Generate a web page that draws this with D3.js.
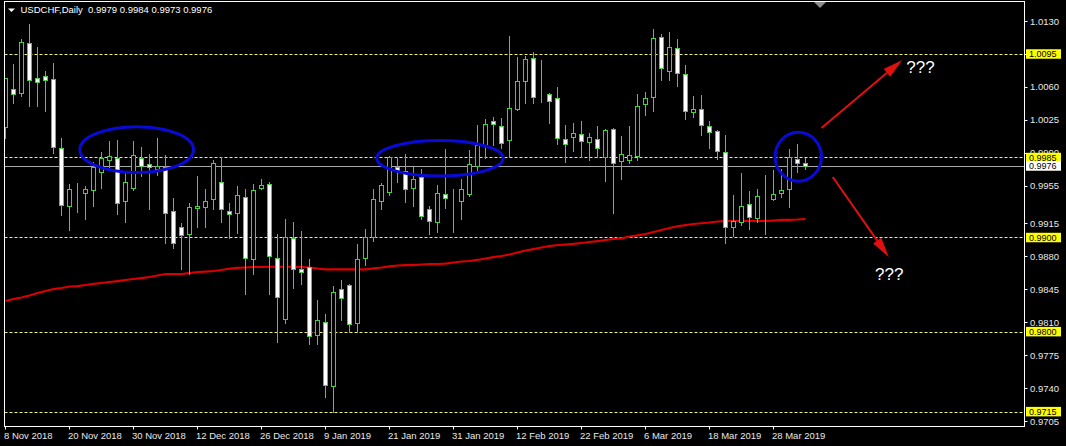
<!DOCTYPE html>
<html>
<head>
<meta charset="utf-8">
<script src="https://cdn.jsdelivr.net/npm/d3@7"></script>
<style>
  body { margin: 0; background: #000; }
  svg { display: block; font-family: "Liberation Sans", Arial, sans-serif; }
</style>
</head>
<body>
<svg id="chart" width="1066" height="446"></svg>
<script>
// USDCHF daily bars, 8 Nov 2018 .. 3 Apr 2019
const open  = [1.0017,1.0058,1.0053,1.0107,1.0069,1.0072,1.0068,0.9995,0.9933,0.9948,
               0.9947,0.9950,0.9970,0.9982,0.9984,0.9939,0.9953,0.9984,0.9978,0.9973,
               0.9975,0.9928,0.9911,0.9904,0.9931,0.9932,0.9941,0.9959,0.9928,0.9926,
               0.9943,0.9877,0.9953,0.9957,0.9878,0.9813,0.9899,0.9866,0.9869,0.9796,
               0.9810,0.9742,0.9845,0.9849,0.9809,0.9878,0.9900,0.9939,0.9948,0.9975,
               0.9971,0.9953,0.9964,0.9930,0.9916,0.9946,0.9941,0.9939,0.9946,0.9976,
               0.9998,1.0024,1.0018,1.0004,1.0037,1.0066,1.0091,1.0047,1.0052,1.0048,
               1.0005,1.0007,1.0010,1.0001,1.0005,0.9986,1.0015,0.9981,0.9982,0.9987,
               1.0042,1.0049,1.0113,1.0077,1.0101,1.0074,1.0033,1.0036,1.0018,1.0013,
               0.9991,0.9911,0.9916,0.9936,0.9921,0.9943,0.9941,0.9947,0.9951,0.9983,
               0.9979];
const high  = [1.0069,1.0084,1.0111,1.0127,1.0102,1.0077,1.0085,1.0006,0.9957,0.9958,
               0.9955,0.9980,0.9991,1.0002,1.0004,0.9971,1.0002,0.9996,0.9989,1.0006,
               0.9988,0.9942,0.9915,0.9937,0.9965,0.9952,0.9982,0.9985,0.9937,0.9955,
               0.9951,0.9957,0.9962,0.9959,0.9904,0.9920,0.9916,0.9907,0.9877,0.9834,
               0.9819,0.9848,0.9855,0.9851,0.9893,0.9909,0.9952,0.9958,0.9987,0.9984,
               0.9989,0.9975,0.9973,0.9933,0.9956,0.9994,0.9951,0.9962,0.9993,1.0019,
               1.0026,1.0028,1.0027,1.0114,1.0092,1.0093,1.0097,1.0089,1.0053,1.0060,
               1.0019,1.0022,1.0024,1.0011,1.0018,1.0015,1.0016,1.0008,1.0018,1.0052,
               1.0055,1.0122,1.0116,1.0118,1.0111,1.0083,1.0050,1.0051,1.0024,1.0014,
               1.0009,0.9945,0.9969,0.9949,0.9951,0.9966,0.9972,0.9973,0.9994,0.9999,
               0.9984];
const low   = [1.0006,1.0043,1.0050,1.0040,1.0040,1.0034,0.9990,0.9924,0.9908,0.9927,
               0.9920,0.9933,0.9953,0.9975,0.9925,0.9916,0.9950,0.9965,0.9930,0.9966,
               0.9894,0.9889,0.9866,0.9861,0.9911,0.9911,0.9930,0.9916,0.9899,0.9905,
               0.9840,0.9861,0.9952,0.9840,0.9789,0.9809,0.9846,0.9851,0.9787,0.9787,
               0.9731,0.9715,0.9812,0.9800,0.9800,0.9871,0.9896,0.9930,0.9945,0.9959,
               0.9938,0.9933,0.9920,0.9904,0.9906,0.9931,0.9906,0.9920,0.9944,0.9972,
               0.9984,0.9998,0.9995,0.9985,1.0035,1.0043,1.0043,1.0044,1.0022,0.9999,
               0.9980,0.9992,0.9986,0.9982,0.9986,0.9960,0.9926,0.9962,0.9979,0.9982,
               1.0030,1.0034,1.0067,1.0067,1.0061,1.0026,1.0028,1.0009,0.9995,0.9983,
               0.9894,0.9902,0.9913,0.9909,0.9916,0.9904,0.9940,0.9943,0.9932,0.9970,
               0.9973];
const close = [1.0069,1.0052,1.0108,1.0067,1.0065,1.0067,0.9996,0.9935,0.9952,0.9948,
               0.9951,0.9975,0.9984,0.9987,0.9937,0.9959,0.9988,0.9976,0.9975,0.9976,
               0.9926,0.9894,0.9903,0.9932,0.9933,0.9939,0.9979,0.9930,0.9925,0.9945,
               0.9878,0.9950,0.9956,0.9880,0.9837,0.9900,0.9866,0.9863,0.9795,0.9812,
               0.9743,0.9842,0.9836,0.9808,0.9877,0.9901,0.9941,0.9956,0.9986,0.9971,
               0.9952,0.9962,0.9923,0.9918,0.9947,0.9942,0.9941,0.9952,0.9978,0.9998,
               1.0021,1.0021,1.0000,1.0038,1.0066,1.0090,1.0049,1.0047,1.0045,1.0006,
               0.9999,1.0011,1.0002,1.0007,0.9995,1.0014,0.9979,0.9989,0.9988,1.0040,
               1.0048,1.0112,1.0080,1.0102,1.0075,1.0034,1.0037,1.0019,1.0012,0.9992,
               0.9911,0.9917,0.9933,0.9922,0.9944,0.9943,0.9946,0.9950,0.9985,0.9979,
               0.9976];
// red moving average
const ma = [0.98325,0.98346,0.98362,0.98383,0.98410,0.98431,0.98452,0.98463,0.98479,0.98484,
            0.98495,0.98506,0.98516,0.98527,0.98537,0.98548,0.98559,0.98569,0.98580,0.98596,
            0.98612,0.98612,0.98612,0.98622,0.98633,0.98638,0.98644,0.98654,0.98670,0.98676,
            0.98681,0.98686,0.98686,0.98689,0.98689,0.98689,0.98689,0.98686,0.98681,0.98670,
            0.98662,0.98662,0.98662,0.98662,0.98662,0.98662,0.98672,0.98681,0.98692,0.98702,
            0.98707,0.98707,0.98713,0.98718,0.98718,0.98723,0.98734,0.98745,0.98750,0.98761,
            0.98777,0.98792,0.98803,0.98819,0.98840,0.98862,0.98877,0.98893,0.98909,0.98920,
            0.98925,0.98931,0.98941,0.98952,0.98962,0.98973,0.98984,0.98991,0.99010,0.99023,
            0.99037,0.99058,0.99079,0.99101,0.99119,0.99132,0.99143,0.99151,0.99159,0.99170,
            0.99175,0.99175,0.99175,0.99175,0.99175,0.99175,0.99180,0.99186,0.99188,0.99191,
            0.99196];

const dateIdx    = [0,8,16,24,32,40,48,56,64,72,80,88,96];
const dateLabels = ["8 Nov 2018","20 Nov 2018","30 Nov 2018","12 Dec 2018","26 Dec 2018","9 Jan 2019",
                    "21 Jan 2019","31 Jan 2019","12 Feb 2019","22 Feb 2019","6 Mar 2019","18 Mar 2019","28 Mar 2019"];
const priceTicks = [1.0130,1.0095,1.0060,1.0025,0.9990,0.9955,0.9915,0.9880,0.9845,0.9810,0.9775,0.9740,0.9705];
const levels     = [1.0095,0.9985,0.9900,0.9800,0.9715];
const bid = 0.9976;

// hand drawn marks: [bar index, price, radius in bars, radius in price]
const ellipses = [[16.4,0.99933,7.1,0.00244],[54.3,0.99841,7.9,0.00188],[99.1,0.99858,2.9,0.0026]];
// arrows: [from index, from price, to index, to price]
const arrows = [[102.0,1.00163,112.1,1.00886],[103.4,0.99643,110.4,0.98793]];
const notes  = [[112.6,1.00748,"???"],[108.7,0.98548,"???"]];

const W = 1066, H = 446;
const plot = {left: 4.5, right: 1024.5, top: 1.5, bottom: 426.5};

const x = d3.scaleLinear().domain([0, 100]).range([5.5, 805.5]);
const y = d3.scaleLinear().domain([0.9705, 1.0130]).range([421, 21]);

const svg = d3.select("#chart");
svg.append("rect").attr("width", W).attr("height", H).attr("fill", "#000");

svg.append("clipPath").attr("id", "clip")
   .append("rect").attr("x", plot.left + 0.5).attr("y", plot.top + 0.5)
   .attr("width", plot.right - plot.left - 1).attr("height", plot.bottom - plot.top - 1);

const g = svg.append("g").attr("clip-path", "url(#clip)");

// horizontal levels
g.selectAll(".lvl").data(levels).enter().append("line")
  .attr("x1", plot.left).attr("x2", plot.right)
  .attr("y1", d => Math.round(y(d)) + 0.5).attr("y2", d => Math.round(y(d)) + 0.5)
  .attr("stroke", "#f2f27a").attr("stroke-dasharray", "3,2");

g.append("line")
  .attr("x1", plot.left).attr("x2", plot.right)
  .attr("y1", Math.round(y(bid)) + 0.5).attr("y2", Math.round(y(bid)) + 0.5)
  .attr("stroke", "#a8a8a8");

// moving average
g.append("path").datum(ma)
  .attr("d", d3.line().x((d, i) => x(i)).y(d => y(d)))
  .attr("fill", "none").attr("stroke", "#d80000").attr("stroke-width", 2.2);

// candles
const bars = d3.range(open.length).map(i => ({i, o: open[i], h: high[i], l: low[i], c: close[i]}));
const green = "#3fd43f";
const cg = g.selectAll(".bar").data(bars).enter().append("g");
cg.append("line")
  .attr("x1", d => x(d.i)).attr("x2", d => x(d.i))
  .attr("y1", d => Math.round(y(d.h))).attr("y2", d => Math.round(y(d.l)) + 1)
  .attr("stroke", green);
cg.append("rect")
  .attr("x", d => x(d.i) - 2)
  .attr("y", d => Math.round(y(Math.max(d.o, d.c))) + 0.5)
  .attr("width", 4)
  .attr("height", d => Math.max(0, Math.round(y(Math.min(d.o, d.c))) - Math.round(y(Math.max(d.o, d.c)))))
  .attr("fill", d => d.c < d.o ? "#fff" : "#000")
  .attr("stroke", green);

// annotations
g.selectAll(".ell").data(ellipses).enter().append("ellipse")
  .attr("cx", d => x(d[0])).attr("cy", d => y(d[1]))
  .attr("rx", d => x(d[2]) - x(0)).attr("ry", d => y(0.98) - y(0.98 + d[3]))
  .attr("fill", "none").attr("stroke", "#0a0ad8").attr("stroke-width", 3);

arrows.forEach(a => {
  const x1 = x(a[0]), y1 = y(a[1]), x2 = x(a[2]), y2 = y(a[3]);
  const ang = Math.atan2(y2 - y1, x2 - x1), len = 20, half = 5;
  const bx = x2 - len * Math.cos(ang), by = y2 - len * Math.sin(ang);
  g.append("line").attr("x1", x1).attr("y1", y1).attr("x2", bx).attr("y2", by)
    .attr("stroke", "#e01010").attr("stroke-width", 2);
  const px = -Math.sin(ang) * half, py = Math.cos(ang) * half;
  g.append("polygon")
    .attr("points", [[x2, y2], [bx + px, by + py], [bx - px, by - py]].map(p => p.join(",")).join(" "))
    .attr("fill", "#e01010");
});

g.selectAll(".note").data(notes).enter().append("text")
  .attr("x", d => x(d[0])).attr("y", d => y(d[1]))
  .attr("fill", "#fff").attr("font-size", 17).text(d => d[2]);

// frame
svg.append("rect").attr("x", plot.left).attr("y", plot.top)
  .attr("width", plot.right - plot.left).attr("height", plot.bottom - plot.top)
  .attr("fill", "none").attr("stroke", "#fff");

// price axis (labels that sit exactly under a level tag are not drawn)
const yAx = svg.append("g");
yAx.selectAll("line").data(priceTicks).enter().append("line")
  .attr("x1", plot.right).attr("x2", plot.right + 3)
  .attr("y1", d => Math.round(y(d)) + 0.5).attr("y2", d => Math.round(y(d)) + 0.5)
  .attr("stroke", "#fff");
yAx.selectAll("text").data(priceTicks.filter(v => !levels.includes(v))).enter().append("text")
  .attr("x", 1030).attr("y", d => y(d) + 3.5)
  .attr("fill", "#e8e8e8").attr("font-size", 9.5).text(d => d.toFixed(4));

const tags = levels.map(v => ({v, bg: "#ffff00"})).concat([{v: bid, bg: "#ffffff"}]);
const tg = svg.selectAll(".tag").data(tags).enter().append("g");
tg.append("rect").attr("x", 1026).attr("y", d => y(d.v) - 4.7)
  .attr("width", 35).attr("height", 9.5).attr("fill", d => d.bg);
tg.append("text").attr("x", 1029).attr("y", d => y(d.v) + 3.3)
  .attr("fill", "#000").attr("font-size", 9).text(d => d.v.toFixed(4));

// time axis
const xAx = svg.append("g");
xAx.selectAll("line").data(dateIdx).enter().append("line")
  .attr("x1", d => x(d)).attr("x2", d => x(d))
  .attr("y1", plot.bottom).attr("y2", plot.bottom + 3)
  .attr("stroke", "#fff");
xAx.selectAll("text").data(dateIdx).enter().append("text")
  .attr("x", d => x(d) - 1.5).attr("y", 439)
  .attr("fill", "#e8e8e8").attr("font-size", 9.5)
  .text((d, i) => dateLabels[i]);

// chart shift marker
svg.append("polygon").attr("points", "814,2 826,2 820,8").attr("fill", "#8c8c8c");

// title
const last = open.length - 1;
svg.append("polygon").attr("points", "8,8.5 15,8.5 11.5,12").attr("fill", "#fff");
svg.append("text").attr("x", 20.5).attr("y", 13).attr("fill", "#fff").attr("font-size", 9.5)
  .attr("xml:space", "preserve")
  .text("USDCHF,Daily  " + [open[last], high[last], low[last], close[last]].map(v => v.toFixed(4)).join(" "));
</script>
</body>
</html>
